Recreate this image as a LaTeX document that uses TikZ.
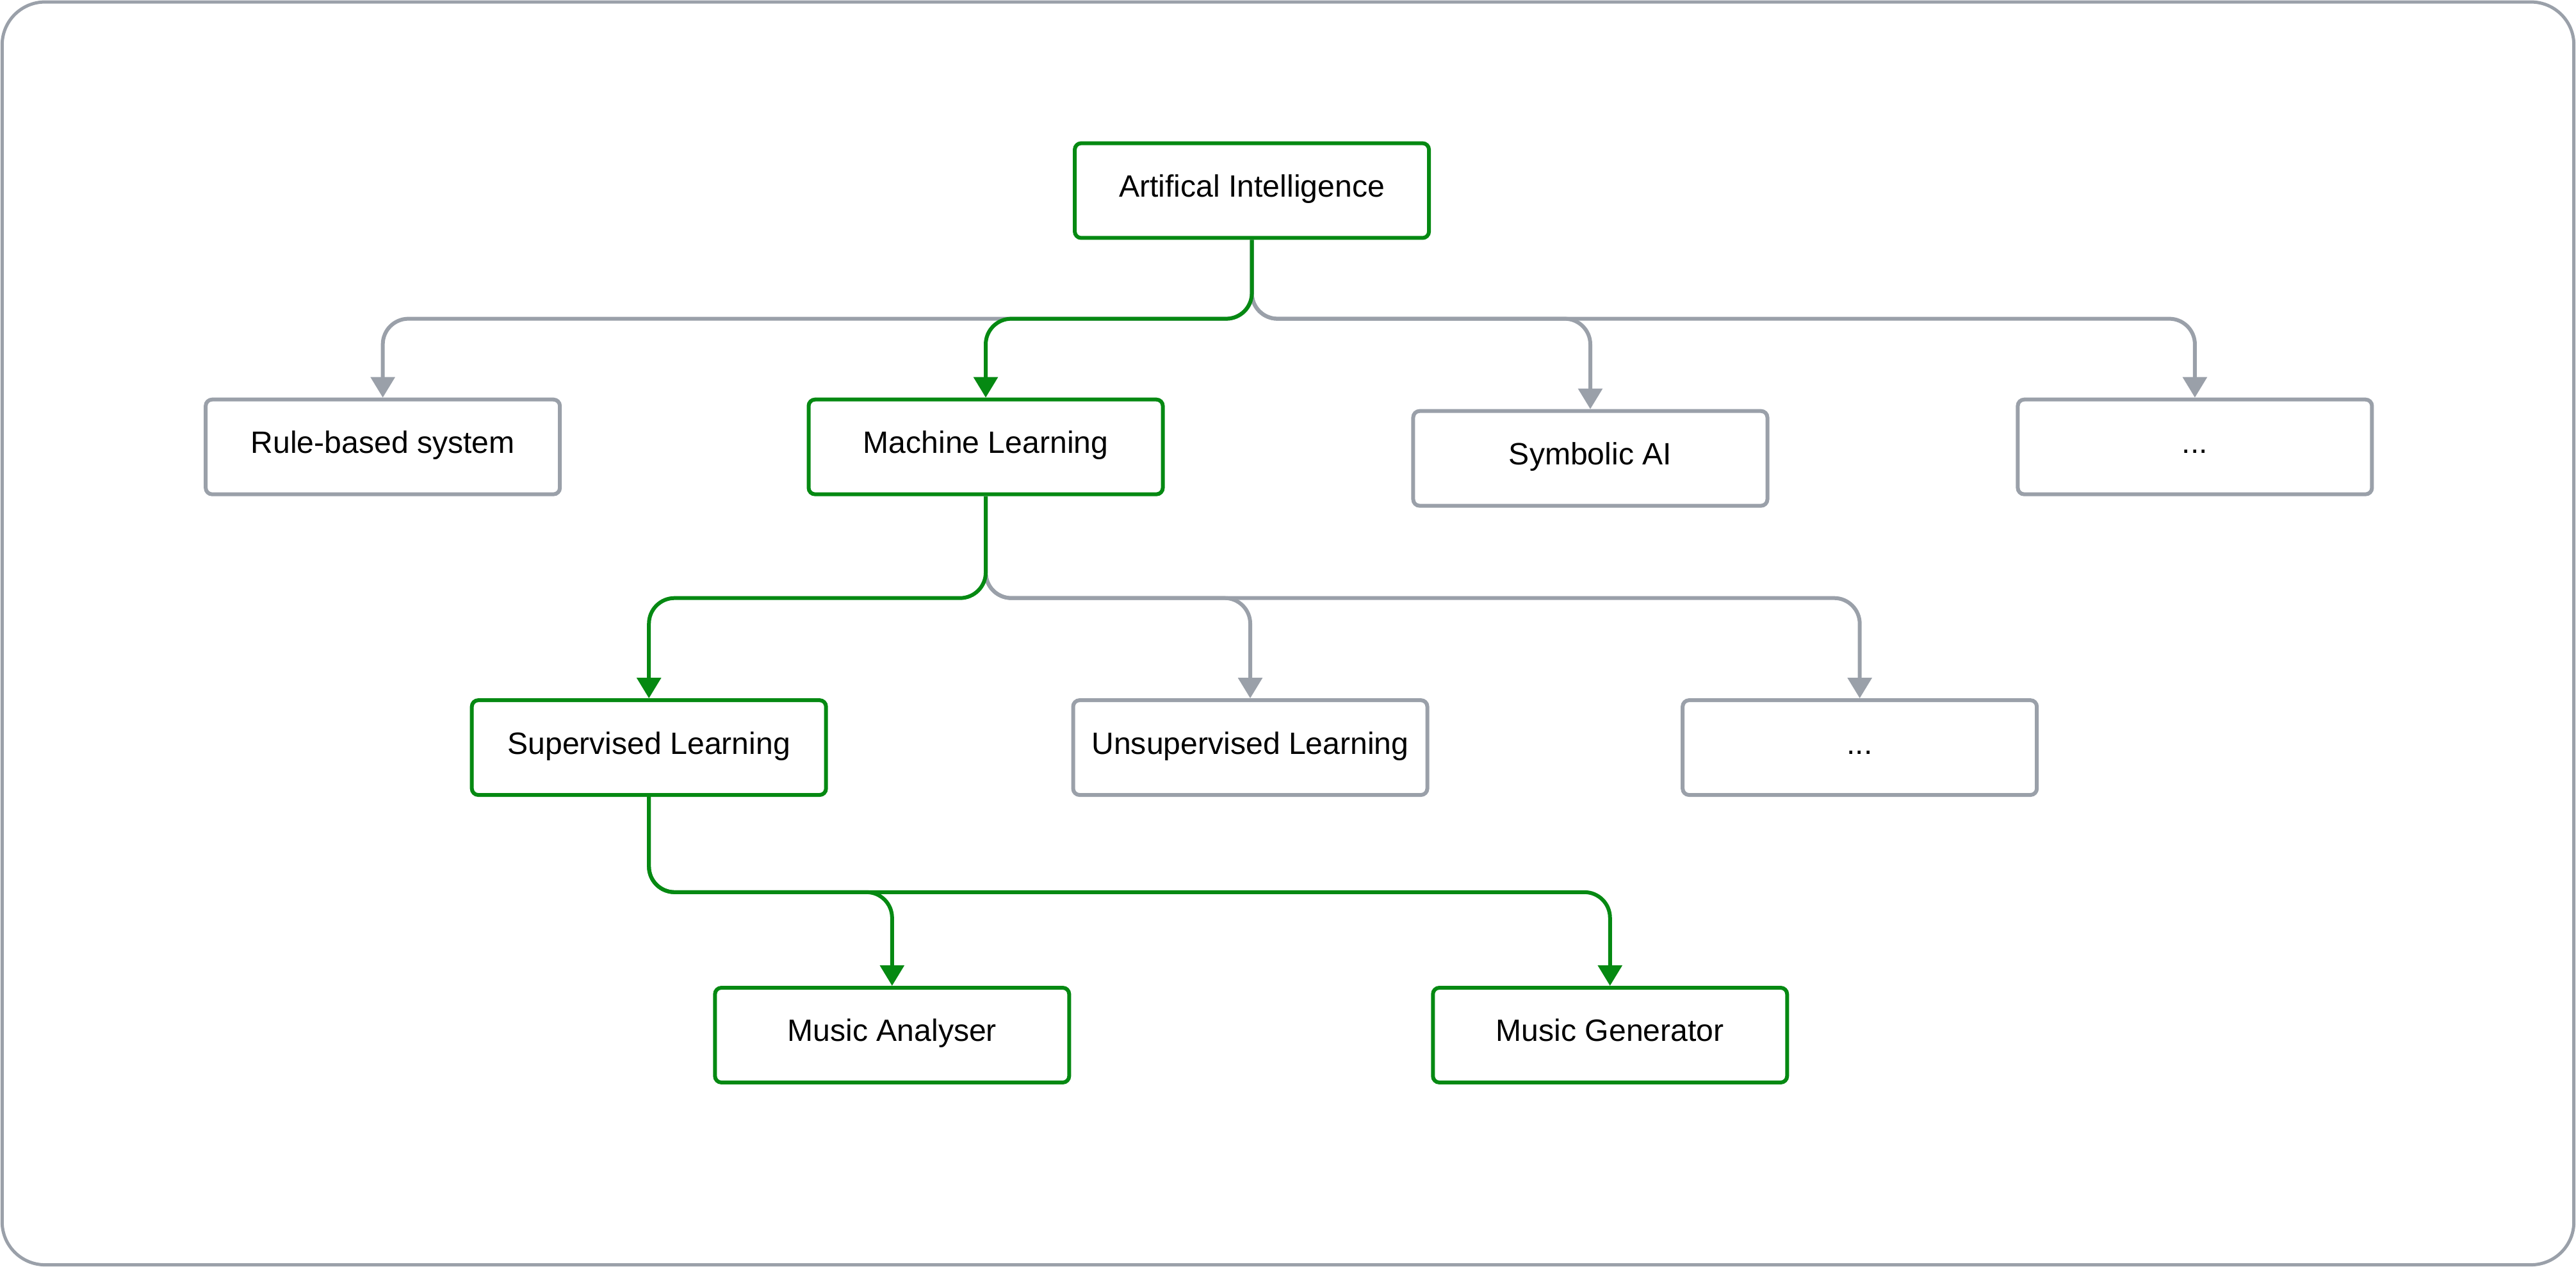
\documentclass[tikz,border=0pt]{standalone}
\usepackage{fontspec}
\setmainfont{Liberation Sans}
\usetikzlibrary{arrows.meta}
\definecolor{gline}{RGB}{5,137,18}
\definecolor{aline}{RGB}{154,160,169}
\tikzset{
  box/.style={draw, line width=0.06cm, rounded corners=0.1cm, fill=white,
    minimum width=5.53cm, minimum height=1.479cm, inner sep=0pt,
    text height=0.33cm, text depth=0.13cm,
    font=\fontsize{13.7}{16}\selectfont, text=black},
  gbox/.style={box, draw=gline},
  abox/.style={box, draw=aline},
  conn/.style={line width=0.06cm, rounded corners=0.4cm,
    -{Triangle[length=0.32cm, width=0.37cm]}},
  gconn/.style={conn, draw=gline},
  aconn/.style={conn, draw=aline},
}
\begin{document}
\begin{tikzpicture}[x=0.02565cm, y=-0.02565cm]
\useasboundingbox (0,0) rectangle (1568,771);
\draw[aline, line width=0.05cm, rounded corners=0.67cm] (1.3,1.2) rectangle (1566.7,769.8);

\node[gbox] (ai) at (762,116) {Artifical Intelligence};
\node[abox] (rb) at (233,272) {Rule-based system};
\node[gbox] (ml) at (600,272) {Machine Learning};
\node[abox] (sy) at (968,279) {Symbolic AI};
\node[abox] (d1) at (1336,272) {...};
\node[gbox] (sl) at (395,455) {Supervised Learning};
\node[abox] (ul) at (761,455) {Unsupervised Learning};
\node[abox] (d2) at (1132,455) {...};
\node[gbox] (ma) at (543,630) {Music Analyser};
\node[gbox] (mg) at (980,630) {Music Generator};

\coordinate (b1) at (762,194);
\coordinate (b2) at (600,364);
\coordinate (b3) at (395,543);

\draw[aconn] (ai.south) -- (ai.south |- b1) -| (rb.north);
\draw[aconn] (ai.south) -- (ai.south |- b1) -| (sy.north);
\draw[aconn] (ai.south) -- (ai.south |- b1) -| (d1.north);
\draw[gconn] (ai.south) -- (ai.south |- b1) -| (ml.north);

\draw[aconn] (ml.south) -- (ml.south |- b2) -| (ul.north);
\draw[aconn] (ml.south) -- (ml.south |- b2) -| (d2.north);
\draw[gconn] (ml.south) -- (ml.south |- b2) -| (sl.north);

\draw[gconn] (sl.south) -- (sl.south |- b3) -| (ma.north);
\draw[gconn] (sl.south) -- (sl.south |- b3) -| (mg.north);
\end{tikzpicture}
\end{document}
